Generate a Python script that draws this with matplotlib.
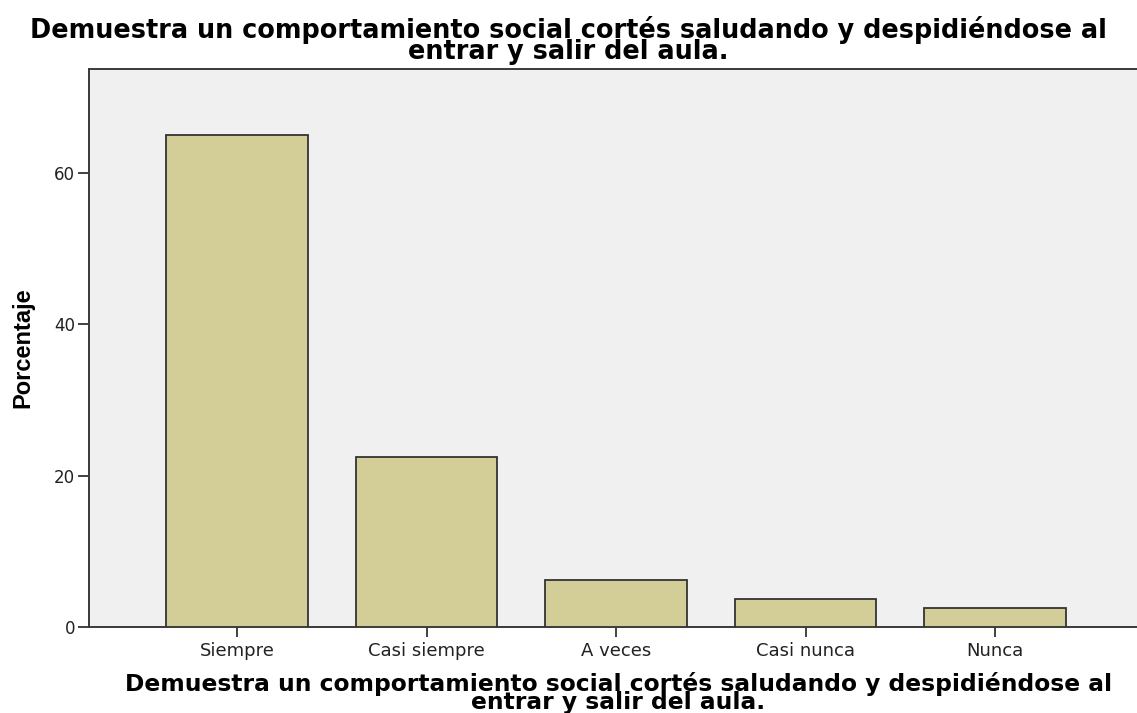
import matplotlib
matplotlib.use("Agg")
import matplotlib.pyplot as plt

# frequency table (percent), N = 80
categories = ["Siempre", "Casi siempre", "A veces", "Casi nunca", "Nunca"]
percentages = [65.0, 22.5, 6.25, 3.75, 2.5]
y_ticks = [0, 20, 40, 60]

title = ("Demuestra un comportamiento social cortés saludando y despidiéndose al\n"
         "entrar y salir del aula.")

BAR_COLOR = "#D3CE97"
EDGE_COLOR = "#333333"
PANEL_BG = "#F0F0F0"


def main():
    fig = plt.figure(figsize=(11.37, 7.13), dpi=100)
    ax = fig.add_axes([0.0783, 0.1206, 0.9314, 0.7826])
    ax.set_facecolor(PANEL_BG)

    xs = list(range(len(categories)))
    ax.bar(xs, percentages, width=0.745, color=BAR_COLOR,
           edgecolor=EDGE_COLOR, linewidth=1.3, zorder=3)

    ax.set_xlim(-0.781, 4.807)
    ax.set_ylim(0, 73.7)

    ax.set_xticks(xs)
    ax.set_xticklabels(categories, fontsize=13, color="#222222")
    ax.set_yticks(y_ticks)
    ax.set_yticklabels([str(v) for v in y_ticks], fontsize=12, color="#222222")
    ax.tick_params(axis="x", length=7, width=1.3, color="#333333", pad=3.5)
    ax.tick_params(axis="y", length=8, width=1.3, color="#333333", pad=2)

    for side in ("left", "bottom", "top"):
        ax.spines[side].set_color("#3a3a3a")
        ax.spines[side].set_linewidth(1.4)
    ax.spines["right"].set_visible(False)

    ax.set_ylabel("Porcentaje", fontsize=17, fontweight="bold",
                  family=["Liberation Sans", "DejaVu Sans"], labelpad=14)
    ax.set_xlabel(title, fontsize=16.8, fontweight="bold", linespacing=0.74,
                  labelpad=9)

    fig.text(0.5, 1 - 16 / 713, title, ha="center", va="top",
             fontsize=18.4, fontweight="bold", linespacing=0.76)

    fig.savefig("out.png", dpi=100)


if __name__ == "__main__":
    main()
